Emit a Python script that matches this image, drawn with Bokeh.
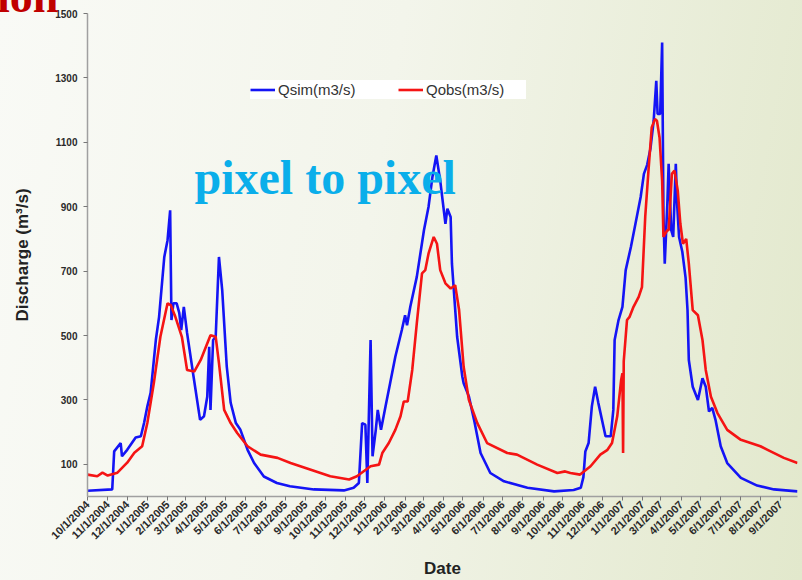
import pandas as pd
from math import pi
from bokeh.plotting import figure
from bokeh.layouts import column
from bokeh.models import (Range1d, FixedTicker, MonthsTicker, DatetimeTickFormatter,
                          Label, Legend, LegendItem, Div)
from bokeh.embed import file_html
from bokeh.resources import INLINE

# ---------------- data ----------------
qsim_dates = [
    "2004-10-01", "2004-11-08", "2004-11-11", "2004-11-21", "2004-11-23", "2004-12-01",
    "2004-12-14", "2004-12-22", "2004-12-27", "2005-01-01", "2005-01-06", "2005-01-14",
    "2005-01-19", "2005-01-27", "2005-02-01", "2005-02-05", "2005-02-07", "2005-02-10",
    "2005-02-15", "2005-02-19", "2005-02-22", "2005-02-26", "2005-03-03", "2005-03-13",
    "2005-03-23", "2005-03-29", "2005-04-03", "2005-04-06", "2005-04-08", "2005-04-12",
    "2005-04-16", "2005-04-21", "2005-04-26", "2005-05-03", "2005-05-09", "2005-05-17",
    "2005-05-24", "2005-06-04", "2005-06-14", "2005-06-29", "2005-07-19", "2005-08-08",
    "2005-09-14", "2005-10-30", "2005-11-14", "2005-11-22", "2005-11-27", "2005-12-02",
    "2005-12-05", "2005-12-10", "2005-12-13", "2005-12-18", "2005-12-21", "2005-12-26",
    "2006-01-02", "2006-01-09", "2006-01-17", "2006-01-27", "2006-02-01", "2006-02-04",
    "2006-02-09", "2006-02-19", "2006-03-02", "2006-03-09", "2006-03-15", "2006-03-21",
    "2006-03-27", "2006-04-04", "2006-04-07", "2006-04-12", "2006-04-14", "2006-04-22",
    "2006-04-30", "2006-05-02", "2006-05-10", "2006-05-18", "2006-05-28", "2006-06-12",
    "2006-07-03", "2006-08-08", "2006-09-18", "2006-10-18", "2006-10-29", "2006-11-02",
    "2006-11-05", "2006-11-10", "2006-11-15", "2006-11-20", "2006-11-25", "2006-12-06",
    "2006-12-14", "2006-12-18", "2006-12-20", "2006-12-26", "2007-01-01", "2007-01-06",
    "2007-01-14", "2007-01-21", "2007-01-29", "2007-02-03", "2007-02-08", "2007-02-13",
    "2007-02-18", "2007-02-22", "2007-02-24", "2007-02-28", "2007-03-03", "2007-03-05",
    "2007-03-07", "2007-03-11", "2007-03-13", "2007-03-17", "2007-03-20", "2007-03-24",
    "2007-03-26", "2007-03-29", "2007-04-03", "2007-04-08", "2007-04-11", "2007-04-13",
    "2007-04-19", "2007-04-27", "2007-05-04", "2007-05-09", "2007-05-14", "2007-05-19",
    "2007-05-24", "2007-06-01", "2007-06-11", "2007-07-02", "2007-07-27", "2007-08-22",
    "2007-09-27",
]
qsim_values = [
    18, 22, 140, 166, 125, 145,
    183, 187, 229, 280, 322, 486,
    558, 744, 796, 889, 548, 600,
    600, 570, 517, 589, 508, 372,
    238, 249, 310, 465, 269, 486,
    496, 744, 641, 403, 291, 228,
    207, 145, 104, 62, 42, 32,
    22, 19, 27, 42, 228, 223,
    42, 486, 125, 207, 269, 207,
    280, 352, 434, 517, 563, 532,
    589, 682, 827, 899, 992, 1059,
    981, 847, 894, 868, 723, 496,
    372, 352, 311, 238, 135, 73,
    47, 27, 16, 20, 27, 60,
    140, 166, 280, 341, 290, 187,
    187, 269, 486, 548, 589, 703,
    775, 847, 930, 1002, 1030, 1080,
    1167, 1291, 1188, 1188, 1410, 878,
    723, 909, 1033, 827, 806, 1033,
    909, 806, 760, 680, 579, 424,
    341, 300, 367, 341, 264, 275,
    238, 156, 104, 58, 34, 22,
    16,
]

qobs_dates = [
    "2004-10-01", "2004-10-16", "2004-10-24", "2004-11-01", "2004-11-16", "2004-12-01",
    "2004-12-12", "2004-12-24", "2005-01-01", "2005-01-11", "2005-01-21", "2005-02-01",
    "2005-02-06", "2005-02-13", "2005-02-23", "2005-03-03", "2005-03-14", "2005-03-24",
    "2005-04-01", "2005-04-08", "2005-04-16", "2005-04-21", "2005-04-29", "2005-05-09",
    "2005-05-19", "2005-06-04", "2005-06-24", "2005-07-20", "2005-08-09", "2005-09-08",
    "2005-10-09", "2005-11-07", "2005-11-19", "2005-12-10", "2005-12-23", "2005-12-28",
    "2006-01-07", "2006-01-17", "2006-01-25", "2006-01-30", "2006-02-05", "2006-02-12",
    "2006-02-19", "2006-02-27", "2006-03-04", "2006-03-09", "2006-03-17", "2006-03-22",
    "2006-03-27", "2006-04-04", "2006-04-12", "2006-04-19", "2006-04-25", "2006-05-02",
    "2006-05-10", "2006-05-23", "2006-06-07", "2006-07-08", "2006-07-23", "2006-08-23",
    "2006-09-23", "2006-10-05", "2006-10-13", "2006-10-28", "2006-11-13", "2006-11-28",
    "2006-12-09", "2006-12-16", "2006-12-24", "2006-12-30", "2007-01-01", "2007-01-02",
    "2007-01-03", "2007-01-08", "2007-01-12", "2007-01-18", "2007-01-26", "2007-01-31",
    "2007-02-05", "2007-02-10", "2007-02-15", "2007-02-20", "2007-02-23", "2007-02-27",
    "2007-03-03", "2007-03-05", "2007-03-11", "2007-03-13", "2007-03-18", "2007-03-22",
    "2007-03-27", "2007-03-31", "2007-04-04", "2007-04-09", "2007-04-13", "2007-04-19",
    "2007-04-27", "2007-05-04", "2007-05-09", "2007-05-17", "2007-05-27", "2007-06-11",
    "2007-07-02", "2007-08-01", "2007-08-12", "2007-09-06", "2007-09-27",
]
qobs_values = [
    68, 63, 74, 65, 74, 105,
    136, 156, 229, 353, 496, 600,
    594, 558, 496, 393, 388, 424,
    465, 501, 496, 414, 269, 228,
    197, 156, 130, 120, 104, 84,
    63, 53, 63, 94, 99, 135,
    166, 207, 249, 295, 295, 393,
    538, 693, 703, 754, 806, 785,
    703, 662, 646, 656, 579, 403,
    300, 228, 166, 135, 130, 99,
    73, 78, 73, 68, 94, 130,
    145, 166, 249, 362, 383, 135,
    420, 548, 558, 589, 620, 650,
    868, 1012, 1146, 1172, 1167, 1115,
    981, 806, 827, 827, 1002, 1012,
    950, 847, 785, 800, 723, 579,
    563, 486, 393, 310, 259, 207,
    176, 156, 145, 120, 104,
]

y_ticks = [100, 300, 500, 700, 900, 1100, 1300, 1500]
x_start, x_end = "2004-10-01", "2007-09-27"

# ---------------- figure ----------------
p = figure(width=802, height=580, x_axis_type="datetime",
           output_backend="svg", toolbar_location=None,
           x_range=Range1d(pd.Timestamp(x_start), pd.Timestamp(x_end)),
           y_range=Range1d(0, 1500),
           min_border_left=87, min_border_right=5, min_border_top=13,
           min_border_bottom=83)

p.background_fill_alpha = 0
p.border_fill_alpha = 0
p.styles = {"background": "linear-gradient(100deg, #f9faf6 0%, #f3f5eb 45%, #e2e8cc 100%)"}
p.outline_line_color = None
p.grid.visible = False

r_sim = p.line(pd.to_datetime(qsim_dates), qsim_values, line_color="#1414f5", line_width=2.6)
r_obs = p.line(pd.to_datetime(qobs_dates), qobs_values, line_color="#f51414", line_width=2.6)

legend = Legend(items=[LegendItem(label="Qsim(m3/s)", renderers=[r_sim]),
                       LegendItem(label="Qobs(m3/s)", renderers=[r_obs])],
                orientation="horizontal", location=(163, 397))
legend.background_fill_color = "white"
legend.background_fill_alpha = 1
legend.border_line_color = None
legend.label_text_font = "Liberation Sans"
legend.label_text_font_size = "15px"
legend.label_text_color = "#333333"
legend.glyph_width = 25
legend.glyph_height = 19
legend.label_height = 19
legend.label_width = 100
legend.label_standoff = 3
legend.spacing = 20
legend.padding = 4
legend.margin = 0
p.add_layout(legend, "center")

# axes
yax = p.yaxis[0]
yax.ticker = FixedTicker(ticks=y_ticks)
yax.axis_label = "Discharge (m³/s)"
xax = p.xaxis[0]
xax.ticker = MonthsTicker(months=list(range(12)))
fmt = "%-m/%-d/%Y"
xax.formatter = DatetimeTickFormatter(days=fmt, months=fmt, years=fmt, hours=fmt)
xax.major_label_orientation = pi / 4
xax.axis_label = "Date"

for ax in (xax, yax):
    ax.axis_line_color = "#a0a0a0"
    ax.axis_line_width = 1.5
    ax.major_tick_line_color = "#777777"
    ax.major_tick_in = 0
    ax.major_tick_out = 4
    ax.minor_tick_line_color = None
    ax.major_label_text_font = "Liberation Sans"
    ax.major_label_text_font_style = "bold"
    ax.major_label_text_font_size = "11px"
    ax.major_label_text_color = "#2a2a2a"
    ax.axis_label_text_font = "Liberation Sans"
    ax.axis_label_text_font_style = "bold"
    ax.axis_label_text_font_size = "17px"
    ax.axis_label_text_color = "#222222"
yax.major_label_text_font_size = "10px"
yax.major_label_standoff = 6
yax.axis_label_standoff = 20
xax.major_label_standoff = 2
xax.axis_label_standoff = 10

# decorative text (screen units are measured from the frame's lower-left corner)
p.add_layout(Label(x=107, y=319, x_units="screen", y_units="screen",
                   text="pixel to pixel", text_font="Liberation Serif",
                   text_font_style="bold", text_font_size="48px",
                   text_color="#0aaeea", text_baseline="alphabetic"))

# the slide-title fragment that is cut off at the top-left corner
title_bit = Div(
    text=('<div style="margin-top:-36px;margin-left:-3px;font-family:\'Liberation Serif\';'
          'font-weight:bold;font-size:46px;line-height:46px;color:#c00000;'
          'white-space:nowrap;">ion</div>'),
    width=80, height=12,
    styles={"position": "absolute", "top": "0px", "left": "0px", "z-index": "5",
            "overflow": "hidden", "margin": "0px", "padding": "0px"})

layout = column(title_bit, p, spacing=0)
open("out.html", "w").write(file_html(layout, INLINE))
